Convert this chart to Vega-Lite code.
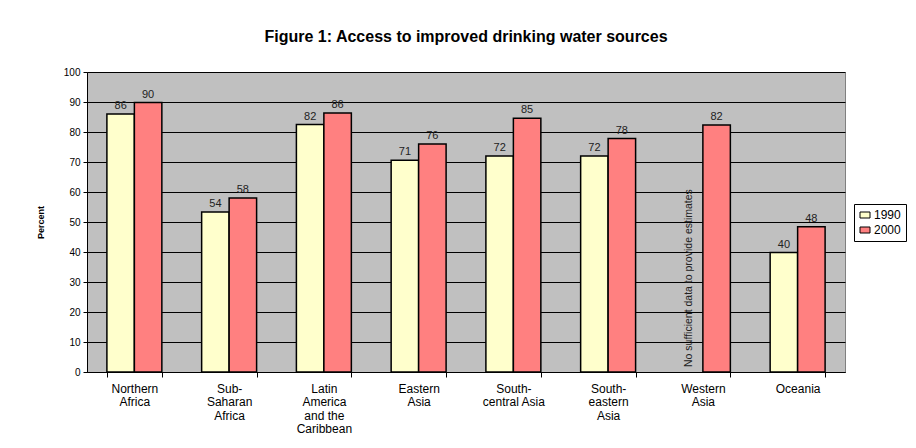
{
  "$schema": "https://vega.github.io/schema/vega-lite/v6.json",
  "width": 758,
  "height": 300,
  "autosize": {"type": "none"},
  "padding": {"left": 87, "top": 72, "right": 71, "bottom": 76},
  "background": "white",
  "title": {
    "text": "Figure 1: Access to improved drinking water sources",
    "font": "Liberation Sans",
    "fontSize": 16,
    "fontWeight": "bold",
    "color": "black",
    "anchor": "middle",
    "offset": 22
  },
  "data": {
    "values": [
      {"region": "Northern Africa", "year": "1990", "value": 86, "label": "86"},
      {"region": "Northern Africa", "year": "2000", "value": 89.8, "label": "90"},
      {"region": "Sub-Saharan Africa", "year": "1990", "value": 53.3, "label": "54"},
      {"region": "Sub-Saharan Africa", "year": "2000", "value": 58, "label": "58"},
      {"region": "Latin America and the Caribbean", "year": "1990", "value": 82.5, "label": "82"},
      {"region": "Latin America and the Caribbean", "year": "2000", "value": 86.3, "label": "86"},
      {"region": "Eastern Asia", "year": "1990", "value": 70.6, "label": "71"},
      {"region": "Eastern Asia", "year": "2000", "value": 76, "label": "76"},
      {"region": "South-central Asia", "year": "1990", "value": 72, "label": "72"},
      {"region": "South-central Asia", "year": "2000", "value": 84.6, "label": "85"},
      {"region": "South-eastern Asia", "year": "1990", "value": 72, "label": "72"},
      {"region": "South-eastern Asia", "year": "2000", "value": 77.8, "label": "78"},
      {"region": "Western Asia", "year": "1990", "value": null, "label": "", "base": 0, "note": "No sufficient data to provide estimates"},
      {"region": "Western Asia", "year": "2000", "value": 82.3, "label": "82"},
      {"region": "Oceania", "year": "1990", "value": 39.8, "label": "40"},
      {"region": "Oceania", "year": "2000", "value": 48.4, "label": "48"}
    ]
  },
  "encoding": {
    "x": {
      "field": "region",
      "type": "nominal",
      "sort": null,
      "scale": {"paddingInner": 0.42, "paddingOuter": 0.21},
      "axis": {
        "title": null,
        "labelAngle": 0,
        "labelFontSize": 12,
        "labelColor": "black",
        "labelLineHeight": 13.5,
        "labelPadding": 6,
        "labelBaseline": "top",
        "tickBand": "extent",
        "tickColor": "black",
        "tickSize": 5,
        "domainColor": "black",
        "domainWidth": 1,
        "labelExpr": "datum.label == 'Northern Africa' ? ['Northern','Africa'] : datum.label == 'Sub-Saharan Africa' ? ['Sub-','Saharan','Africa'] : datum.label == 'Latin America and the Caribbean' ? ['Latin','America','and the','Caribbean'] : datum.label == 'Eastern Asia' ? ['Eastern','Asia'] : datum.label == 'South-central Asia' ? ['South-','central Asia'] : datum.label == 'South-eastern Asia' ? ['South-','eastern','Asia'] : datum.label == 'Western Asia' ? ['Western','Asia'] : datum.label"
      }
    },
    "xOffset": {"field": "year", "type": "nominal", "scale": {"domain": ["1990", "2000"], "paddingInner": 0, "paddingOuter": 0}}
  },
  "layer": [
    {
      "mark": {"type": "bar", "stroke": "black", "strokeWidth": 1.5},
      "encoding": {
        "y": {
          "field": "value",
          "type": "quantitative",
          "scale": {"domain": [0, 100], "nice": false},
          "axis": {
            "tickCount": 11,
            "title": "Percent"
          }
        },
        "color": {
          "field": "year",
          "type": "nominal",
          "scale": {"domain": ["1990", "2000"], "range": ["#FFFFCC", "#FF8080"]},
          "legend": {
            "title": null,
            "orient": "none",
            "legendX": 767,
            "legendY": 132,
            "direction": "vertical",
            "padding": 5,
            "strokeColor": "black",
            "fillColor": "white",
            "labelFontSize": 12,
            "labelColor": "black",
            "labelOffset": 3,
            "rowPadding": 3,
            "symbolType": "M-1,-0.6H1V0.6H-1Z",
            "symbolSize": 100,
            "symbolStrokeColor": "black",
            "symbolStrokeWidth": 1,
            "symbolOpacity": 1
          }
        }
      }
    },
    {
      "mark": {"type": "text", "baseline": "bottom", "dy": -3, "fontSize": 11, "color": "#222222"},
      "encoding": {
        "y": {"field": "value", "type": "quantitative"},
        "text": {"field": "label"}
      }
    },
    {
      "transform": [{"filter": "datum.note != null"}],
      "mark": {"type": "text", "angle": 270, "align": "left", "baseline": "middle", "dx": 5, "fontSize": 10.5, "color": "#222222"},
      "encoding": {
        "y": {"field": "base", "type": "quantitative"},
        "text": {"field": "note"}
      }
    }
  ],
  "config": {
    "font": "Liberation Sans",
    "view": {"fill": "#C0C0C0", "stroke": "#808080", "strokeWidth": 1},
    "axisY": {
      "labelOverlap": false,
      "titleFontSize": 9,
      "titleFontWeight": "bold",
      "titleColor": "black",
      "titlePadding": 18,
      "labelFontSize": 10,
      "labelColor": "black",
      "labelPadding": 3,
      "tickColor": "black",
      "tickSize": 4,
      "domainColor": "black",
      "grid": true,
      "gridColor": "black",
      "gridWidth": 1,
      "gridOpacity": 1
    }
  }
}
